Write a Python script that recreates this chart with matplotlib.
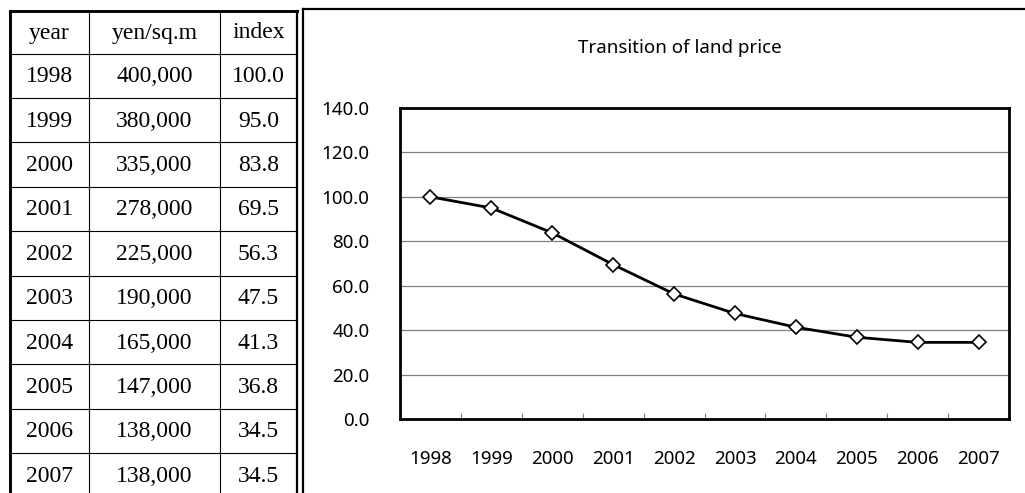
import matplotlib
matplotlib.use("Agg")
import matplotlib.pyplot as plt

# data
years = ["1998", "1999", "2000", "2001", "2002", "2003", "2004", "2005", "2006", "2007"]
yen = ["400,000", "380,000", "335,000", "278,000", "225,000", "190,000", "165,000", "147,000", "138,000", "138,000"]
index = [100.0, 95.0, 83.8, 69.5, 56.3, 47.5, 41.3, 36.8, 34.5, 34.5]
headers = ["year", "yen/sq.m", "index"]
title = "Transition of land price"
yticks = [0, 20, 40, 60, 80, 100, 120, 140]

W, H = 1025, 493
fig = plt.figure(figsize=(W / 100, H / 100), dpi=100)

# background layer in pixel coords: table and chart frame
bg = fig.add_axes([0, 0, 1, 1])
bg.set_xlim(0, W)
bg.set_ylim(H, 0)
bg.axis("off")

col_x = [9.5, 89, 220, 297]
row_top = 10.5
row_first = 53.5
row_h = 44.4
serif = "Liberation Serif"

# table grid
bg.plot([col_x[0], col_x[0]], [row_top, H], color="black", lw=2.1)
bg.plot([col_x[3], col_x[3]], [row_top, H], color="black", lw=1.6)
bg.plot([col_x[0], col_x[3]], [row_top, row_top], color="black", lw=2.1)
for cx in col_x[1:3]:
    bg.plot([cx, cx], [row_top, H], color="black", lw=0.8)
for k in range(len(years)):
    y = row_first + row_h * k
    bg.plot([col_x[0], col_x[3]], [y, y], color="black", lw=0.8)

centers = [(col_x[i] + col_x[i + 1]) / 2 for i in range(3)]
for i, h in enumerate(headers):
    bg.text(centers[i], (row_top + row_first) / 2 + 1, h, ha="center", va="center",
            fontsize=17, family=serif)
for k in range(len(years)):
    yc = row_first + row_h * k + row_h / 2 + 1
    row = [years[k], yen[k], "%.1f" % index[k]]
    for i, t in enumerate(row):
        bg.text(centers[i], yc, t, ha="center", va="center", fontsize=17, family=serif)

# chart frame
bg.plot([303, 303], [9, H], color="black", lw=1.6)
bg.plot([303, W], [9, 9], color="black", lw=1.6)

sans = ["Noto Sans", "DejaVu Sans"]
bg.text(680, 48, title, ha="center", va="center", fontsize=13.5, family=sans)

# line chart
left, right, top, bottom = 400, 1009, 108, 419
ax = fig.add_axes([left / W, 1 - bottom / H, (right - left) / W, (bottom - top) / H])
xs = list(range(len(years)))
ax.plot(xs, index, color="black", lw=2, marker="D", ms=7,
        markerfacecolor="white", markeredgecolor="black", markeredgewidth=1.2, zorder=3)
ax.set_xlim(-0.5, len(years) - 0.5)
ax.set_ylim(0, 140)
ax.set_yticks(yticks)
ax.set_yticklabels(["%.1f" % v for v in yticks], fontsize=13.5, family=sans)
ax.set_xticks(xs)
ax.set_xticklabels(years, fontsize=13.5, family=sans)
ax.set_xticks([x + 0.5 for x in xs[:-1]], minor=True)
ax.tick_params(axis="y", length=0, pad=22)
ax.tick_params(axis="x", which="major", length=0, pad=22.5)
ax.tick_params(axis="x", which="minor", direction="in", length=4, color="#808080", width=0.8)
ax.grid(axis="y", color="#808080", lw=0.9)
ax.set_axisbelow(True)
for s in ax.spines.values():
    s.set_linewidth(2)
    s.set_color("black")

fig.savefig("out.png", dpi=100)
